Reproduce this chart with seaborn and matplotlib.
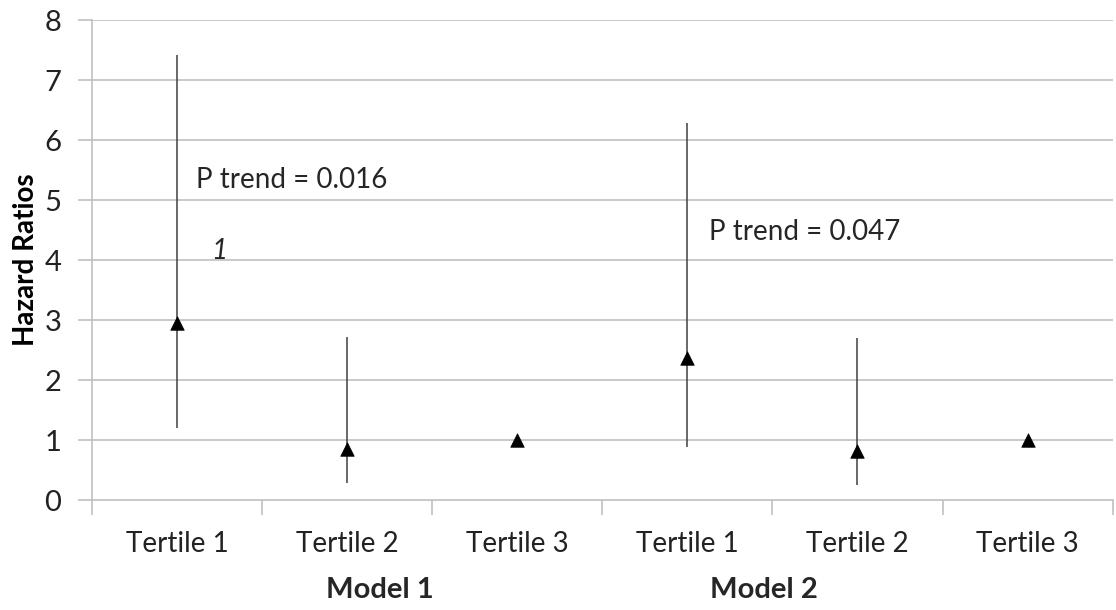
import matplotlib
matplotlib.use("Agg")
import matplotlib.pyplot as plt
import seaborn as sns
import pandas as pd
import numpy as np

# Data
tertiles = ["Tertile 1", "Tertile 2", "Tertile 3", "Tertile 1", "Tertile 2", "Tertile 3"]
models = ["Model 1", "Model 2"]
hazard_ratio = [2.95, 0.85, 1.0, 2.37, 0.82, 1.0]
ci_lower = [1.2, 0.28, 1.0, 0.88, 0.25, 1.0]
ci_upper = [7.42, 2.72, 1.0, 6.28, 2.70, 1.0]
annotations = ["P trend = 0.016", "1", "P trend = 0.047"]
y_ticks = [0, 1, 2, 3, 4, 5, 6, 7, 8]

sns.set_theme(style="white")
plt.rcParams['font.family'] = ['Lato', 'DejaVu Sans']

df = pd.DataFrame({
    "pos": np.arange(len(tertiles)),
    "tertile": tertiles,
    "hr": hazard_ratio,
    "lo": ci_lower,
    "hi": ci_upper,
})

fig = plt.figure(figsize=(11.16, 6.10), dpi=100)
ax = fig.add_axes([0.0824, 0.180, 0.9146, 0.787])

grid_c = "#c0c0c0"
for t in y_ticks[1:]:
    ax.axhline(t, color=grid_c, lw=1.2, zorder=0)

ax.vlines(df["pos"], df["lo"], df["hi"], color="#404040", lw=1.1, zorder=2)
sns.scatterplot(data=df, x="pos", y="hr", marker="^", s=95, color="black",
                edgecolor="black", linewidth=0.5, ax=ax, zorder=3, legend=False)

ax.set_xlim(-0.5, 5.5)
ax.set_ylim(0, 8)
ax.set_yticks(y_ticks)
ax.set_yticklabels([str(t) for t in y_ticks], fontsize=21, color="#222222")

ax.set_xticks(np.arange(-0.5, 6.0, 1.0))
ax.set_xticklabels([])
ax.set_xticks(df["pos"], minor=True)
ax.set_xticklabels(tertiles, minor=True, fontsize=20, color="#222222")
ax.tick_params(axis="x", which="major", direction="out", length=11, width=1.2, color=grid_c, bottom=True)
ax.tick_params(axis="x", which="minor", length=0, pad=22)
ax.tick_params(axis="y", which="major", direction="out", length=10, width=1.2, color=grid_c, left=True, pad=12)

for side in ["top", "right"]:
    ax.spines[side].set_visible(False)
for side in ["left", "bottom"]:
    ax.spines[side].set_color(grid_c)
    ax.spines[side].set_linewidth(1.2)

ax.set_xlabel("")
ax.set_ylabel("Hazard Ratios", fontsize=20, fontweight="bold", color="black", labelpad=4)

# Model group labels
model_centers = [1.19, 3.45]
for m, c in zip(models, model_centers):
    ax.text(c, -1.5, m, ha="center", va="center", fontsize=21,
            fontweight="bold", transform=ax.transData, clip_on=False)

# Annotations
ax.text(0.11, 5.33, annotations[0], fontsize=20, ha="left", va="center")
ax.text(0.2, 4.15, annotations[1], fontsize=20, ha="left", va="center", style="italic")
ax.text(3.13, 4.47, annotations[2], fontsize=20, ha="left", va="center")

fig.savefig("out.png", dpi=100, facecolor="white")
